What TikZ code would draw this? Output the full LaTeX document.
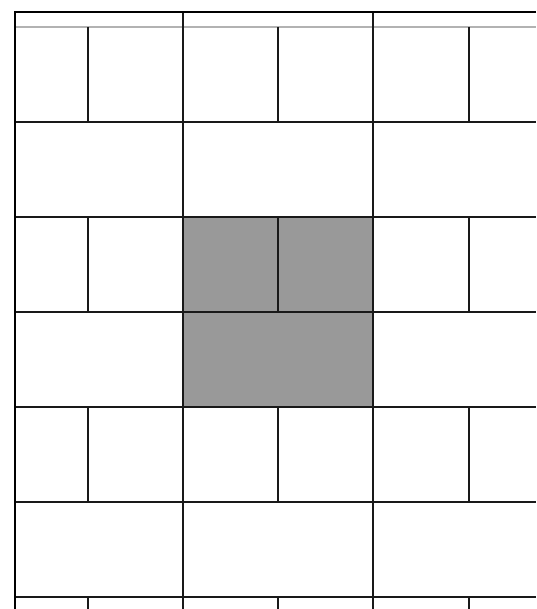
\documentclass[tikz,border=0pt]{standalone}
\begin{document}
\begin{tikzpicture}[x=1pt,y=-1pt,
  gridline/.style={line width=1.5pt,draw=black!90},
  thinline/.style={line width=1.3pt,draw=black!30},
  heavyline/.style={line width=2.4pt,draw=black},
  shade/.style={fill=black!40}]
\useasboundingbox (0,0) rectangle (536,609);
\fill[shade] (183,217) rectangle (373,407);
% full-width horizontals
\foreach \y in {122,217,312,407,502,597} \draw[gridline] (15,\y) -- (536,\y);
\draw[thinline] (15,27) -- (536,27);
% main verticals
\foreach \x in {183,373} \draw[gridline] (\x,12) -- (\x,609);
% secondary verticals in alternate rows
\foreach \x in {88,278,469} {
  \draw[gridline] (\x,27) -- (\x,122);
  \draw[gridline] (\x,217) -- (\x,312);
  \draw[gridline] (\x,407) -- (\x,502);
  \draw[gridline] (\x,597) -- (\x,609);
}
\draw[heavyline] (536,12) -- (15,12) -- (15,609);
\end{tikzpicture}
\end{document}
